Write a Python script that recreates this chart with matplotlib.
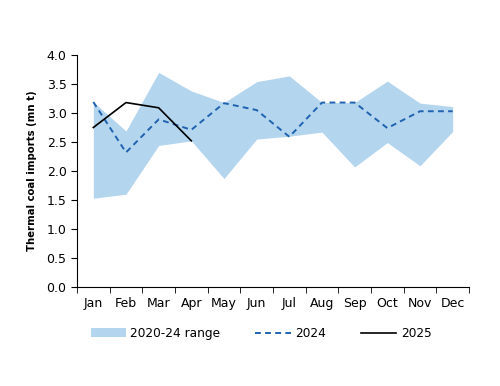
import numpy as np
import matplotlib
matplotlib.use("Agg")
import matplotlib.pyplot as plt
import matplotlib.ticker as plticker

months = ['Jan', 'Feb', 'Mar', 'Apr', 'May', 'Jun', 'Jul', 'Aug', 'Sep', 'Oct', 'Nov', 'Dec']
range_low = [1.53, 1.60, 2.44, 2.52, 1.87, 2.55, 2.60, 2.67, 2.07, 2.49, 2.09, 2.68]
range_high = [3.19, 2.69, 3.70, 3.38, 3.18, 3.54, 3.64, 3.18, 3.18, 3.55, 3.17, 3.11]
imports_2024 = [3.19, 2.32, 2.89, 2.71, 3.17, 3.05, 2.59, 3.18, 3.18, 2.74, 3.03, 3.03]
imports_2025 = [2.75, 3.18, 3.09, 2.52]

fontsize = 9

fig = plt.figure(figsize=(5, 3.86), dpi=100)
ax = fig.add_axes([0.154, 0.2565, 0.784, 0.601])

x = np.arange(len(months))
ax.fill_between(x, range_low, range_high, color='#b3d5ee', linewidth=0, label='2020-24 range')
ax.plot(x, imports_2024, color='#1f63b0', linestyle=(0, (3, 2.2)), linewidth=1.4, label='2024')
ax.plot(x[:len(imports_2025)], imports_2025, color='black', linewidth=1.2, label='2025')

ax.set_xlim(-0.5, 11.5)
ax.set_ylim(0, 4)
ax.yaxis.set_major_locator(plticker.MultipleLocator(0.5))
ax.yaxis.set_major_formatter(plticker.FormatStrFormatter('%.1f'))

# month labels in the middle, tick marks on the boundaries
ax.set_xticks(x)
ax.set_xticklabels(months)
ax.set_xticks(np.arange(-0.5, 12, 1), minor=True)
ax.tick_params(axis='x', which='major', length=0, pad=7, labelsize=fontsize)
ax.tick_params(axis='x', which='minor', length=4, direction='out')
ax.tick_params(axis='y', length=4, direction='out', labelsize=fontsize)

for side in ['top', 'right']:
	ax.spines[side].set_visible(False)

ax.set_ylabel('Thermal coal imports (mn t)', fontsize=7.3, fontweight='bold', labelpad=7)

ax.legend(loc='upper center', bbox_to_anchor=(0.47, -0.125), ncol=3, frameon=False,
		  fontsize=8.7, handlelength=2.9, columnspacing=2.9, handletextpad=0.4)

plt.savefig('out.png', dpi=100)
